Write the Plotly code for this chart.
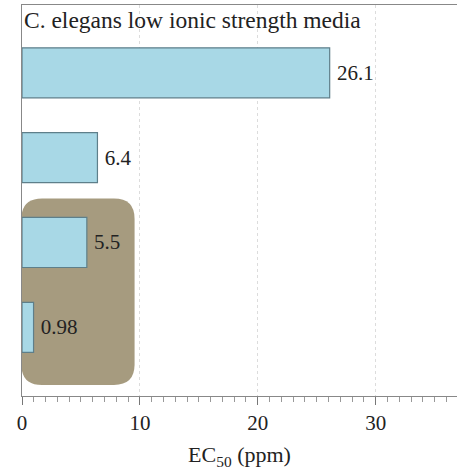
import plotly.graph_objects as go

categories = ["Group 1", "Group 2", "Group 3", "Group 4"]  # top to bottom
values = [26.1, 6.4, 5.5, 0.98]
value_labels = ["26.1", "6.4", "5.5", "0.98"]
title_text = "C. elegans low ionic strength media"
x_title = "EC<sub>50</sub> (ppm)"

# y positions: bottom bar at 0
ypos = [3, 2, 1, 0]

fig = go.Figure()
fig.add_trace(go.Bar(
    x=values, y=ypos, orientation="h",
    width=0.59,
    marker=dict(color="#A8D8E6", line=dict(color="#5E7F8A", width=1.2)),
    text=["\u2009" + t for t in value_labels], textposition="outside",
    textfont=dict(family="Liberation Serif", size=21, color="#222"),
    cliponaxis=False, hoverinfo="skip",
))

# rounded highlight box behind the two lowest bars
x0, x1 = -0.05, 9.55
y0, y1 = -0.68, 1.52
rx, ry = 1.75, 0.24
path = (f"M {x0+rx},{y0} L {x1-rx},{y0} Q {x1},{y0} {x1},{y0+ry} "
        f"L {x1},{y1-ry} Q {x1},{y1} {x1-rx},{y1} L {x0+rx},{y1} "
        f"Q {x0},{y1} {x0},{y1-ry} L {x0},{y0+ry} Q {x0},{y0} {x0+rx},{y0} Z")
fig.add_shape(type="path", path=path, xref="x", yref="y",
              fillcolor="#A69B7F", line=dict(width=0), layer="below")

fig.add_annotation(text=title_text, xref="paper", yref="paper", x=0.0, y=1.0,
                   xanchor="left", yanchor="top", showarrow=False,
                   font=dict(family="Liberation Serif", size=23.5, color="#222"),
                   xshift=0, yshift=0)

fig.update_layout(
    width=457, height=471,
    margin=dict(l=22, r=0, t=5, b=75, autoexpand=False),
    plot_bgcolor="white", paper_bgcolor="white",
    showlegend=False,
    font=dict(family="Liberation Serif", color="#222"),
)
fig.update_xaxes(
    automargin=False,
    range=[0, 36.9], tickvals=[0, 10, 20, 30],
    ticks="outside", ticklen=8, tickcolor="#777", tickwidth=1,
    minor=dict(dtick=1, ticks="outside", ticklen=5, tickcolor="#999", showgrid=False),
    showline=True, linecolor="#888", linewidth=1, mirror=True,
    showgrid=True, gridcolor="#dcdcdc", griddash="dot", gridwidth=1,
    zeroline=False,
    tickfont=dict(family="Liberation Serif", size=21, color="#222"),
    title=dict(text=x_title, font=dict(family="Liberation Serif", size=22, color="#222"), standoff=12),
)
fig.update_yaxes(
    automargin=False,
    range=[-0.81, 3.8], showticklabels=False, ticks="",
    showline=True, linecolor="#888", linewidth=1,
    showgrid=False, zeroline=False,
)

fig.write_html("out.html", config={"displayModeBar": False},
               post_script="document.body.style.margin='0px';document.body.style.overflow='hidden';")
